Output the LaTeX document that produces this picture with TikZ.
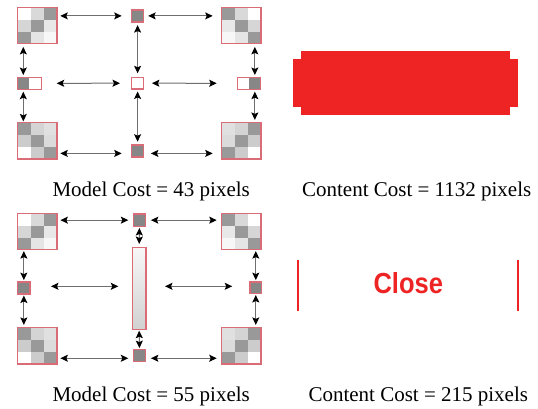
\documentclass[tikz,border=0pt]{standalone}
\usepackage{fontspec}
\setmainfont{Liberation Serif}
\newfontfamily\closefont{Liberation Sans}
\usetikzlibrary{arrows.meta}
\definecolor{pinkline}{RGB}{218,108,120}
\definecolor{redfill}{RGB}{238,36,36}
\definecolor{linegray}{RGB}{110,110,110}

% 3x3 grey tile: #1 name, #2 left, #3 top, #4 nine grey levels (percent black)
\newcommand\gridtile[4]{%
  \foreach \g [count=\i from 0] in {#4} {
    \pgfmathtruncatemacro\col{mod(\i,3)}
    \pgfmathtruncatemacro\row{floor(\i/3)}
    \fill[black!\g] ({#2+\col*39.4/3},{#3+\row*12.1}) rectangle ++(39.4/3,12.1);
  }
  \node[tilebox] (#1) at (#2,#3) {};
  \draw[pinkline, line width=1.5pt] (#1.north west) rectangle (#1.south east);
}

\begin{document}
\begin{tikzpicture}[x=1pt,y=-1pt,
  tilebox/.style={inner sep=0pt, outer sep=0pt,
    minimum width=39.4pt, minimum height=36.3pt, anchor=north west},
  smallbox/.style={draw=pinkline, line width=1.5pt, fill=black!47, inner sep=0pt, outer sep=0pt,
    minimum size=11.8pt, anchor=north west},
  cellbox/.style={inner sep=0pt, outer sep=0pt, minimum width=12pt, minimum height=12pt,
    anchor=north west},
  arr/.style={{Stealth[length=7.5pt,width=7pt,inset=1.5pt,black]}-{Stealth[length=7.5pt,width=7pt,inset=1.5pt,black]},
    draw=linegray, line width=1pt},
  caption/.style={anchor=base, font=\fontsize{21}{25}\selectfont}]
\useasboundingbox (0,0) rectangle (538,408);

% ---------- upper model ----------
\gridtile{TL}{17.4}{7.4}{0,15,40,16,40,9,40,10,3}
\gridtile{TR}{221.4}{7.4}{40,15,0,9,40,16,3,10,40}
\gridtile{BL}{17.4}{122.6}{40,17,12,20,40,14,0,20,40}
\gridtile{BR}{221.4}{122.6}{12,17,40,14,40,20,40,20,0}

\node[smallbox] (TC) at (131.7,10) {};
\node[smallbox, fill=white] (C) at (131.7,77.3) {};
\node[smallbox] (BC) at (131.7,145) {};

\node[cellbox, fill=black!47] (ML-a) at (17.3,77.3) {};
\node[cellbox, fill=white, minimum width=12.4pt] (ML-b) at (29.3,77.3) {};
\draw[pinkline, line width=1.5pt] (ML-a.north west) rectangle (ML-b.south east);
\node[cellbox, fill=white, minimum width=11.7pt] (MR-a) at (237.3,77.3) {};
\node[cellbox, fill=black!47, minimum width=11.7pt] (MR-b) at (249,77.3) {};
\draw[pinkline, line width=1.5pt] (MR-a.north west) rectangle (MR-b.south east);

\coordinate (bcl) at ([yshift=-2.5pt]BC.west);
\coordinate (bcr) at ([yshift=-2.5pt]BC.east);

\draw[arr, shorten <=3.5pt, shorten >=10pt] (TL.east |- TC.west) -- (TC.west);
\draw[arr, shorten <=4.7pt, shorten >=8.7pt] (TC.east) -- (TC.east -| TR.west);
\draw[arr, shorten <=15pt, shorten >=11.7pt] (ML-b.east) -- (C.west);
\draw[arr, shorten <=8.4pt, shorten >=20.6pt] (C.east) -- (MR-a.west);
\draw[arr, shorten <=3.5pt, shorten >=10pt] (bcl -| BL.east) -- (bcl);
\draw[arr, shorten <=7.4pt, shorten >=8.7pt] (bcr) -- (bcr -| BR.west);

\draw[arr, shorten <=3.2pt, shorten >=2.3pt] (ML-a.north |- TL.south) -- (ML-a.north);
\draw[arr, shorten <=2.4pt, shorten >=1.2pt] (ML-a.south) -- (ML-a.south |- BL.north);
\draw[arr, shorten <=3.3pt, shorten >=4pt] (TC.south) -- (C.north);
\draw[arr, shorten <=2.4pt, shorten >=3.3pt] (C.south) -- (BC.north);
\draw[arr, shorten <=3.2pt, shorten >=2.3pt] (MR-b.north |- TR.south) -- (MR-b.north);
\draw[arr, shorten <=2.4pt, shorten >=2.7pt] (MR-b.south) -- (MR-b.south |- BR.north);

% ---------- lower model ----------
\gridtile{TL2}{17.5}{213.4}{0,15,40,16,40,9,40,10,3}
\gridtile{TR2}{221.7}{213.4}{40,15,0,9,40,16,3,10,40}
\gridtile{BL2}{17.5}{327.6}{40,17,12,20,40,14,0,20,40}
\gridtile{BR2}{221.7}{327.6}{12,17,40,14,40,20,40,20,0}

\node[smallbox, minimum size=12.3pt] (TC2) at (133.3,214) {};
\node[smallbox, minimum size=12.3pt] (BC2) at (133.3,349.3) {};
\node[smallbox, minimum size=12.3pt] (ML2) at (17.7,281.8) {};
\node[smallbox, minimum size=11.8pt] (MR2) at (249.9,281.8) {};
\node[draw=pinkline, line width=1.5pt, inner sep=0pt, outer sep=0pt, anchor=north west,
  minimum width=13.7pt, minimum height=82pt,
  top color=black!3, middle color=black!9, bottom color=black!18] (Bar) at (132.3,247.3) {};

\coordinate (bl) at ([yshift=2pt]Bar.west);
\coordinate (br) at ([yshift=2pt]Bar.east);
\coordinate (b2l) at ([yshift=-2.8pt]BC2.west);
\coordinate (b2r) at ([yshift=-2.8pt]BC2.east);

\draw[arr, shorten <=3.5pt, shorten >=5pt] (TL2.east |- TC2.west) -- (TC2.west);
\draw[arr, shorten <=5.3pt, shorten >=5pt] (TC2.east) -- (TC2.east -| TR2.west);
\draw[arr, shorten <=21pt, shorten >=14pt] (bl -| ML2.east) -- (bl);
\draw[arr, shorten <=19pt, shorten >=17.7pt] (br) -- (br -| MR2.west);
\draw[arr, shorten <=3.5pt, shorten >=5pt] (b2l -| BL2.east) -- (b2l);
\draw[arr, shorten <=5.3pt, shorten >=5pt] (b2r) -- (b2r -| BR2.west);

\draw[arr, shorten <=1.4pt, shorten >=1.7pt] (ML2.north |- TL2.south) -- (ML2.north);
\draw[arr, shorten <=1.4pt, shorten >=2.7pt] (ML2.south) -- (ML2.south |- BL2.north);
\draw[arr, shorten <=1.7pt, shorten >=3.3pt] (TC2.south) -- (Bar.north);
\draw[arr, shorten <=1.4pt, shorten >=1.2pt] (Bar.south) -- (BC2.north);
\draw[arr, shorten <=1.4pt, shorten >=1.7pt] (MR2.north |- TR2.south) -- (MR2.north);
\draw[arr, shorten <=1.4pt, shorten >=2.7pt] (MR2.south) -- (MR2.south |- BR2.north);

% ---------- content ----------
\fill[redfill] (301,51) rectangle (510,115);
\fill[redfill] (292.7,59.3) rectangle (518.3,107.3);

\draw[redfill, line width=2pt] (298.3,260) -- (298.3,310.7);
\draw[redfill, line width=2pt] (517.7,260) -- (517.7,310.7);
\node[text=redfill, font=\closefont\bfseries\fontsize{29}{29}\selectfont, xscale=0.88,
  inner sep=0pt] (closelbl) at (408.3,283) {Close};

% ---------- captions ----------
\node[caption] (cap1) at (151.2,196) {Model Cost = 43 pixels};
\node[caption] (cap2) at (416.7,196) {Content Cost = 1132 pixels};
\node[caption] (cap3) at (151.2,401.6) {Model Cost = 55 pixels};
\node[caption] (cap4) at (418.3,401.6) {Content Cost = 215 pixels};
\end{tikzpicture}
\end{document}
